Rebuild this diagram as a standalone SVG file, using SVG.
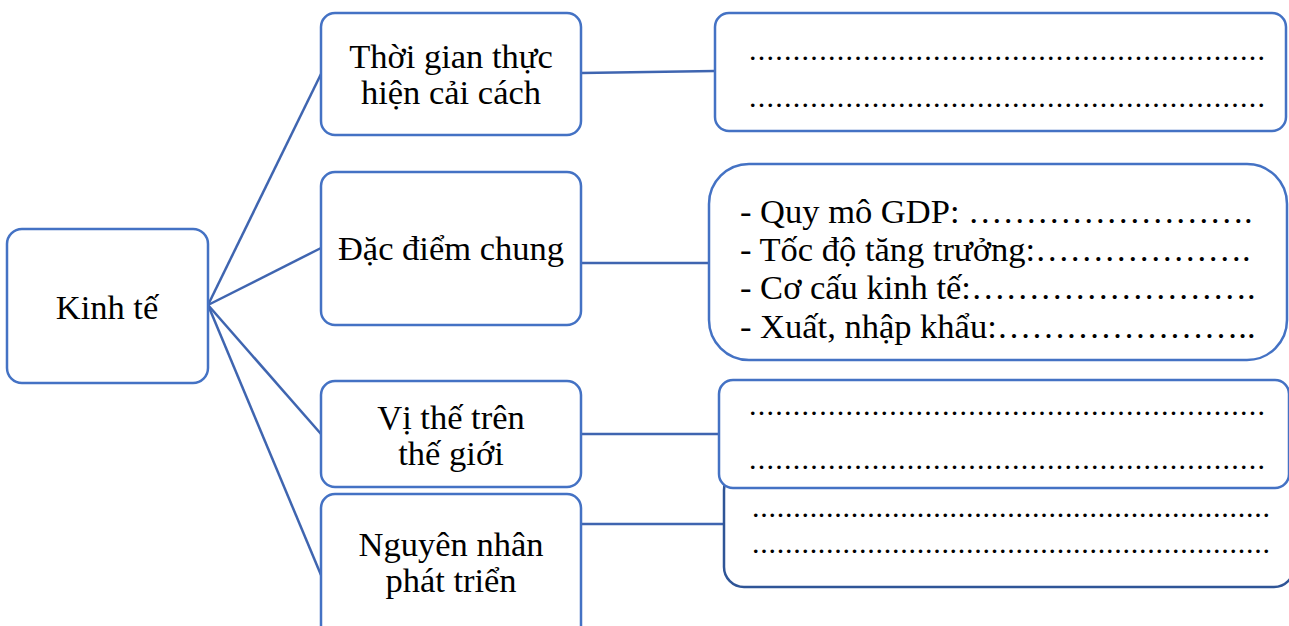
<svg xmlns="http://www.w3.org/2000/svg" width="1289" height="626" viewBox="0 0 1289 626">
<style>
.box{fill:#fff;stroke:#4472C4;stroke-width:2.5}
.con{fill:none;stroke:#3F65B0;stroke-width:2.5}
.t{font-family:"Liberation Serif","Times New Roman",serif;font-size:34.5px;fill:#000;text-anchor:middle}
.l{font-family:"Liberation Serif","Times New Roman",serif;font-size:34.5px;fill:#000}
.d{font-family:"Liberation Serif","Times New Roman",serif;font-size:30px;fill:#000}
</style>
<rect width="1289" height="626" fill="#fff"/>
<g id="connectors">
<line class="con" x1="208" y1="305" x2="321" y2="74"/>
<line class="con" x1="208" y1="305" x2="321" y2="248"/>
<line class="con" x1="208" y1="305" x2="321" y2="434"/>
<line class="con" x1="208" y1="305" x2="321" y2="575"/>
<line class="con" x1="581" y1="73" x2="715" y2="71"/>
<line class="con" x1="581" y1="263" x2="709" y2="263"/>
<line class="con" x1="581" y1="434" x2="719" y2="434"/>
<line class="con" x1="581" y1="524" x2="724" y2="524"/>
</g>
<g id="kinhte">
<rect class="box" x="7" y="229" width="201" height="154" rx="15"/>
<text class="t" x="107" y="319">Kinh tế</text>
</g>
<g id="thoigian">
<rect class="box" x="321" y="13" width="260" height="122" rx="14"/>
<text class="t" x="451" y="68">Thời gian thực</text>
<text class="t" x="451" y="104">hiện cải cách</text>
</g>
<g id="dacdiem">
<rect class="box" x="321" y="172" width="260" height="153" rx="14"/>
<text class="t" x="451" y="260">Đặc điểm chung</text>
</g>
<g id="vithe">
<rect class="box" x="321" y="381" width="260" height="106" rx="14"/>
<text class="t" x="451" y="429">Vị thế trên</text>
<text class="t" x="451" y="465">thế giới</text>
</g>
<g id="nguyennhan">
<rect class="box" x="321" y="494" width="260" height="160" rx="14"/>
<text class="t" x="451" y="556">Nguyên nhân</text>
<text class="t" x="451" y="592">phát triển</text>
</g>
<g id="ans1">
<rect class="box" x="715" y="13" width="571" height="118" rx="14"/>
<text class="d" x="749" y="60" textLength="516" lengthAdjust="spacing">...........................................................</text>
<text class="d" x="749" y="107" textLength="516" lengthAdjust="spacing">...........................................................</text>
</g>
<g id="ans2">
<rect class="box" x="709" y="164" width="578" height="196" rx="40"/>
<text class="l" x="740" y="223">- Quy mô GDP: &#8230;&#8230;&#8230;&#8230;&#8230;&#8230;&#8230;&#8230;.</text>
<text class="l" x="740" y="261">- Tốc độ tăng trưởng:&#8230;&#8230;&#8230;&#8230;&#8230;&#8230;.</text>
<text class="l" x="740" y="299">- Cơ cấu kinh tế:&#8230;&#8230;&#8230;&#8230;&#8230;&#8230;&#8230;&#8230;.</text>
<text class="l" x="740" y="338">- Xuất, nhập khẩu:&#8230;&#8230;&#8230;&#8230;&#8230;&#8230;&#8230;..</text>
</g>
<g id="ans4">
<rect class="box" x="724" y="470" width="570" height="117" rx="20" style="stroke:#2F5597"/>
<text class="d" x="752" y="517" textLength="518" lengthAdjust="spacing">...............................................................</text>
<text class="d" x="752" y="553" textLength="518" lengthAdjust="spacing">...............................................................</text>
</g>
<g id="ans3">
<rect class="box" x="719" y="380" width="570" height="108" rx="14"/>
<text class="d" x="749" y="415" textLength="516" lengthAdjust="spacing">...........................................................</text>
<text class="d" x="749" y="469" textLength="516" lengthAdjust="spacing">...........................................................</text>
</g>
</svg>
